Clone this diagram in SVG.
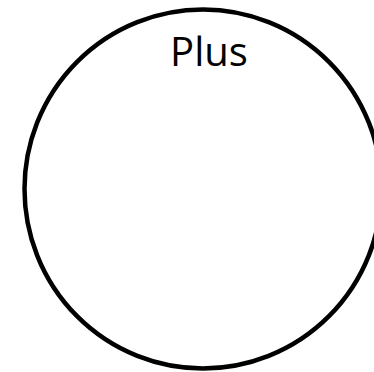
<svg xmlns="http://www.w3.org/2000/svg" width="374" height="372" viewBox="0 0 374 372">
<style>
.node{fill:#fff;stroke:#000;stroke-width:4.5}
.lbl{font-family:"Open Sans","Liberation Sans",sans-serif;font-size:40px;fill:#000;text-anchor:middle}
</style>
<rect width="374" height="372" fill="#fff"/>
<g id="plus">
<ellipse class="node" cx="203" cy="189" rx="178.5" ry="179.5"/>
<text class="lbl" x="209" y="66">Plus</text>
</g>
<g id="connectors"/>
</svg>
